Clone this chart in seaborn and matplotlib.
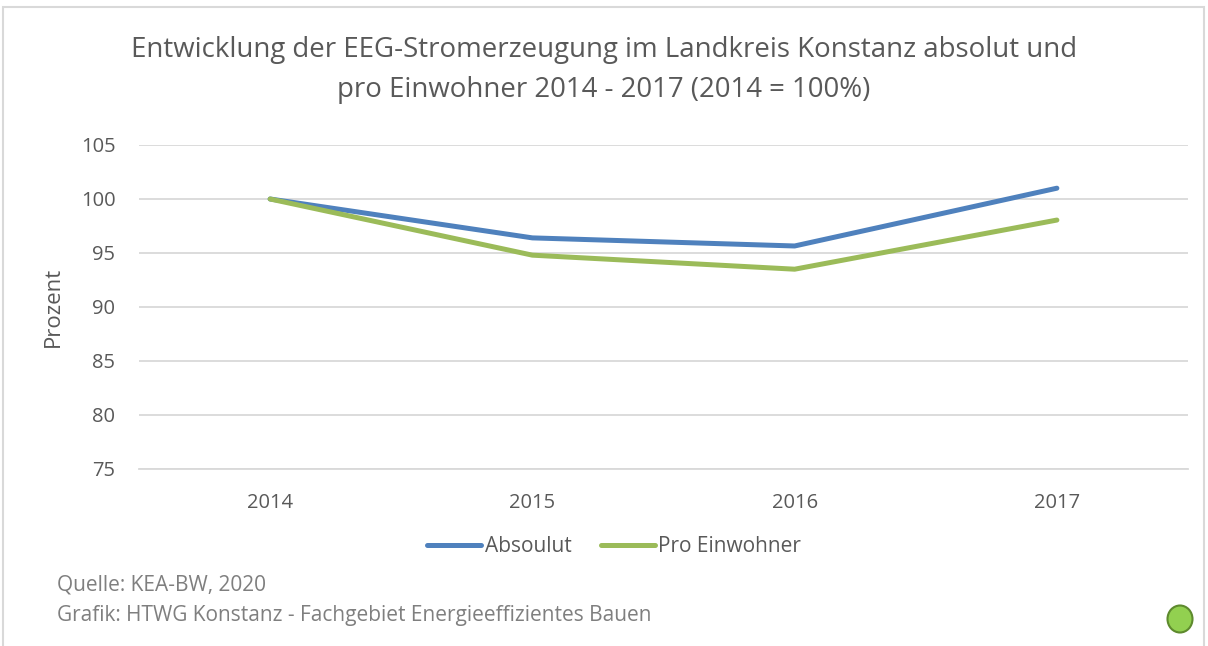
import pandas as pd
import matplotlib.pyplot as plt
import seaborn as sns
from matplotlib.patches import Rectangle, Ellipse

# data
years = ["2014", "2015", "2016", "2017"]
absolut = [100.0, 96.4, 95.65, 101.0]
pro_einwohner = [100.0, 94.8, 93.5, 98.05]
series_names = ["Absoulut", "Pro Einwohner"]
colors = ["#4F81BD", "#9BBB59"]

df = pd.DataFrame({
    "Jahr": years * 2,
    "Prozent": absolut + pro_einwohner,
    "Reihe": [series_names[0]] * 4 + [series_names[1]] * 4,
})

sns.set_style("white")
plt.rcParams["font.family"] = ["Open Sans", "DejaVu Sans"]
grey = "#595959"

fig = plt.figure(figsize=(12.08, 6.46), dpi=100)
ax = fig.add_axes([139 / 1208, 1 - 469 / 646, (1188 - 139) / 1208, (469 - 145) / 646])

sns.lineplot(data=df, x="Jahr", y="Prozent", hue="Reihe", palette=colors,
             linewidth=3.6, ax=ax, legend=False, sort=False,
             solid_capstyle="round", solid_joinstyle="round")

ax.set_xlim(-0.5, 3.5)
ax.set_ylim(75, 105)
ax.set_yticks(range(75, 106, 5))
ax.grid(axis="y", color="#D9D9D9", linewidth=1.3)
ax.set_axisbelow(True)
for s in ["top", "right", "left"]:
    ax.spines[s].set_visible(False)
ax.spines["bottom"].set_color("#D9D9D9")
ax.spines["bottom"].set_linewidth(1.3)
ax.tick_params(axis="both", length=0, labelsize=14.5, colors=grey)
ax.tick_params(axis="y", pad=17)
ax.tick_params(axis="x", pad=17)
ax.set_xlabel("")
ax.set_ylabel("Prozent", fontsize=16, color=grey, labelpad=12)

fig.text(0.5, 1 - 50 / 646, "Entwicklung der EEG-Stromerzeugung im Landkreis Konstanz absolut und",
         ha="center", va="center", fontsize=19.9, color=grey)
fig.text(0.5, 1 - 90 / 646, "pro Einwohner 2014 - 2017 (2014 = 100%)",
         ha="center", va="center", fontsize=19.9, color=grey)

# legend
handles = [plt.Line2D([], [], color=c, linewidth=3.6, solid_capstyle="round") for c in colors]
fig.legend(handles, series_names, loc="center", bbox_to_anchor=(614 / 1208, 1 - 547 / 646),
           ncol=2, frameon=False, fontsize=15, labelcolor=grey, handlelength=2.6,
           handletextpad=0.15, columnspacing=1.4)

fig.text(57 / 1208, 1 - 585 / 646, "Quelle: KEA-BW, 2020", ha="left", va="center",
         fontsize=15, color="#7F7F7F")
fig.text(57 / 1208, 1 - 615 / 646, "Grafik: HTWG Konstanz - Fachgebiet Energieeffizientes Bauen",
         ha="left", va="center", fontsize=15, color="#7F7F7F")

fig.patches.append(Ellipse((1180 / 1208, 1 - 619 / 646), 25 / 1208, 27 / 646,
                           transform=fig.transFigure, facecolor="#92D050",
                           edgecolor="#5E8A2E", linewidth=1.5))
fig.patches.append(Rectangle((3 / 1208, -0.01), 1201 / 1208, 1 - 7 / 646 + 0.01,
                             transform=fig.transFigure, fill=False,
                             edgecolor="#D9D9D9", linewidth=1.5))

fig.savefig("out.png", dpi=100)
